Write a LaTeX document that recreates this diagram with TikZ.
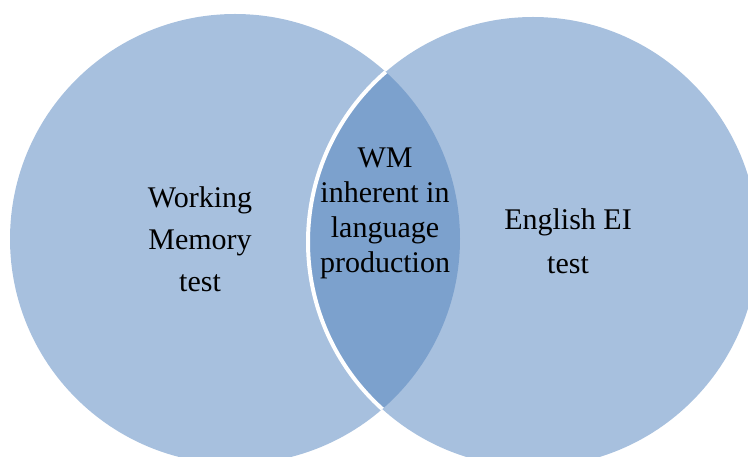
\documentclass[tikz,border=0pt]{standalone}
\usepackage{fontspec}
\setmainfont{Liberation Serif}
\definecolor{vennlight}{RGB}{167,192,222}
\definecolor{venndark}{RGB}{124,161,205}
\tikzset{every picture/.style={line width=1pt}}
\tikzset{
  txt/.style={align=center, inner sep=0pt,
                font=\fontsize{30}{#1}\selectfont},
  txt/.default={42}, % default baseline skip
}
\def\rad{225pt}

\begin{document}
\begin{tikzpicture}[x=1pt,y=1pt]
  \useasboundingbox (0,0) rectangle (748,457);
  % centres of the two sets
  \coordinate (L) at (235,218);
  \coordinate (R) at (533,215);
  % draw both sets
  \fill[vennlight] (L) circle (\rad);
  \fill[vennlight] (R) circle (\rad);
  % overlap and its white rim
  \begin{scope}
    \clip (L) circle (\rad);
    \fill[venndark] (R) circle (\rad);
    \draw[white, line width=4pt] (R) circle (\rad);
  \end{scope}
  % texts
  \node[txt] (wm) at (200,218) {Working\\Memory\\test};
  \node[txt=35] (both) at (385,244) {WM\\inherent in\\language\\production};
  \node[txt=44] (ei) at (568,216) {English EI\\test};
\end{tikzpicture}
\end{document}
